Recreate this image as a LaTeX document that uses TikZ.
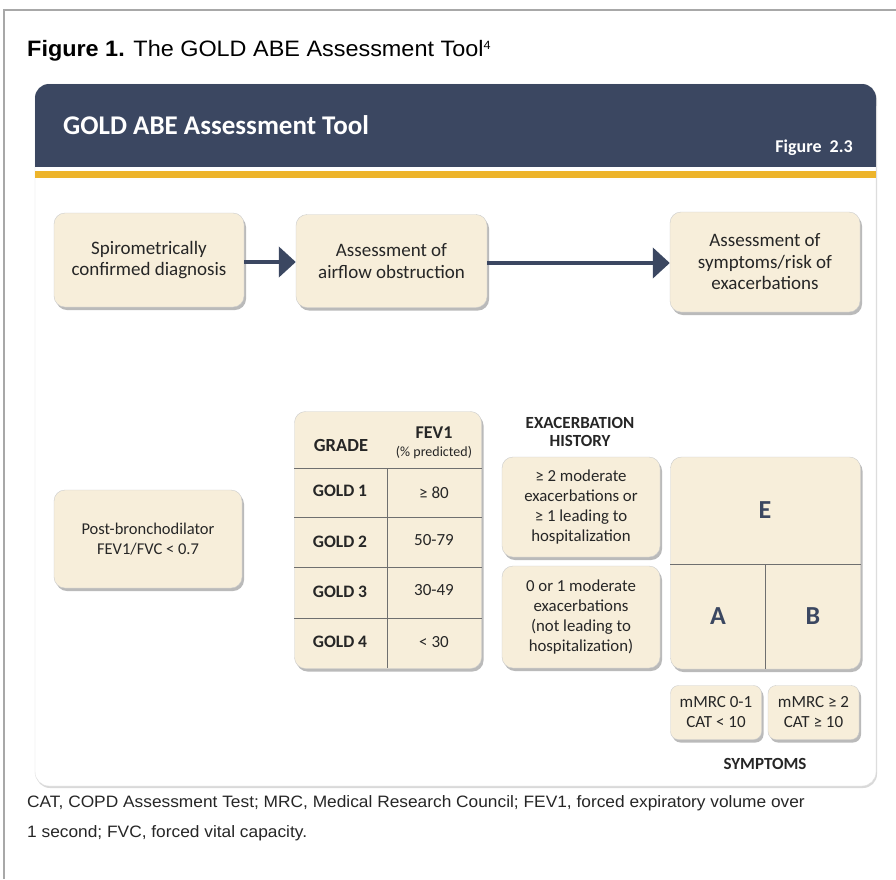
\documentclass[tikz,border=0pt]{standalone}
\usepackage{fontspec}
\setmainfont{Liberation Sans}
\newfontfamily\wide[FakeStretch=1.05]{Liberation Sans}
\newfontfamily\carl{Carlito}
\usetikzlibrary{arrows.meta,shadows,positioning}
\definecolor{navy}{HTML}{3B4761}
\definecolor{gold}{HTML}{EDB42B}
\definecolor{cream}{HTML}{F7EEDA}
\definecolor{frame}{HTML}{A8A8A8}
\definecolor{gridl}{HTML}{6F6F6F}
\tikzset{
  cbox/.style={draw=gray!40, fill=cream, rounded corners=11pt, align=center,
    font=\carl\fontsize{19}{21.5}\selectfont, text=black!85, inner sep=0pt,
    drop shadow={shadow xshift=2pt, shadow yshift=-3pt, opacity=.45, fill=black!60}},
  lbl/.style={inner sep=0pt, align=center},
  cell/.style={inner sep=0pt, font=\carl\bfseries\fontsize{17.5}{20}\selectfont, text=black!85},
  val/.style={inner sep=0pt, font=\carl\fontsize{17}{20}\selectfont, text=black!85},
  abe/.style={inner sep=0pt, text=navy, font=\carl\bfseries\fontsize{26}{30}\selectfont},
  flow/.style={navy, line width=4.5pt, -{Triangle[length=17pt,width=30pt]}},
  gline/.style={gridl, line width=1pt},
  foot/.style={inner sep=0pt, anchor=west, font=\wide\fontsize{16.5}{20}\selectfont, text=black!85},
}
\begin{document}
\begin{tikzpicture}[x=1pt,y=-1pt]
\useasboundingbox (0,0) rectangle (896,879);
\fill[white] (0,0) rectangle (896,879);
% outer frame
\draw[frame, line width=1.5pt] (4,879) -- (4,10) -- (896,10);
% title
\node[lbl, anchor=west, font=\wide\fontsize{22.3}{26}\selectfont] (title) at (27,51)
  {\textbf{Figure 1.} The GOLD ABE Assessment Tool\textsuperscript{\fontsize{12}{12}\selectfont 4}};
% card
\path[fill=white, draw=gray!25, rounded corners=14pt,
  drop shadow={shadow xshift=1pt, shadow yshift=-2pt, opacity=.15, fill=black}]
  (35,84) rectangle (876,786);
% header
\fill[navy, rounded corners=14pt] (35,84) rectangle (876,120);
\fill[navy] (35,105) rectangle (876,167);
\node[lbl, anchor=west, text=white, font=\carl\bfseries\fontsize{27}{30}\selectfont] (head) at (63,125) {GOLD ABE Assessment Tool};
\node[lbl, anchor=east, text=white, font=\carl\bfseries\fontsize{18}{20}\selectfont] (fig) at (853,148) {Figure\ \ 2.3};
\fill[gold] (35,171) rectangle (876,178);
% top flow
\node[cbox, minimum width=190pt, minimum height=94pt] (b1) at (149,260) {Spirometrically\\confirmed diagnosis};
\node[cbox, minimum width=191pt, minimum height=93pt] (b2) at (391.5,261) {Assessment of\\airflow obstruction};
\node[cbox, minimum width=190pt, minimum height=100pt] (b3) at (765,262) {Assessment of\\symptoms/risk of\\exacerbations};
\coordinate (a1s) at (b1.east |- 0,262);
\coordinate (a1e) at (b2.west |- 0,262);
\coordinate (a2s) at (b2.east |- 0,263);
\coordinate (a2e) at (b3.west |- 0,263);
\draw[flow] (a1s) -- (a1e);
\draw[flow] (a2s) -- (a2e);
% post-bronchodilator
\node[cbox, minimum width=188pt, minimum height=98pt, font=\carl\fontsize{16.5}{20}\selectfont] (post) at (148,539) {Post-bronchodilator\\FEV1/FVC < 0.7};
% table
\node[cbox, minimum width=187pt, minimum height=257pt] (tab) at (388,540) {};
\draw[gline] (tab.west |- 0,468) -- (tab.east |- 0,468);
\draw[gline] (tab.west |- 0,517) -- (tab.east |- 0,517);
\draw[gline] (tab.west |- 0,567) -- (tab.east |- 0,567);
\draw[gline] (tab.west |- 0,618) -- (tab.east |- 0,618);
\draw[gline] (387,468) -- (387,668);
\node[cell, font=\carl\bfseries\fontsize{18.5}{20}\selectfont] (grade) at (341,445) {GRADE};
\node[cell, font=\carl\bfseries\fontsize{18}{20}\selectfont] (fev) at (434,433) {FEV1};
\node[val, font=\carl\fontsize{14}{16}\selectfont] (pred) at (434,452) {(\% predicted)};
\node[cell] (g1) at (340,491) {GOLD 1};
\node[cell] (g2) at (340,542) {GOLD 2};
\node[cell] (g3) at (340,592) {GOLD 3};
\node[cell] (g4) at (340,642) {GOLD 4};
\node[val] (v1) at (434,493) {≥ 80};
\node[val] (v2) at (434,540) {50-79};
\node[val] (v3) at (434,590) {30-49};
\node[val] (v4) at (434,642) {< 30};
% exacerbation history
\node[cell, align=center, font=\carl\bfseries\fontsize{17}{18}\selectfont] (exh) at (580,432) {EXACERBATION\\HISTORY};
\node[cbox, minimum width=158pt, minimum height=100pt, font=\carl\fontsize{16.8}{20.3}\selectfont] (e1) at (581,507) {≥ 2 moderate\\exacerbations or\\≥ 1 leading to\\hospitalization};
\node[cbox, minimum width=158pt, minimum height=102pt, font=\carl\fontsize{16.8}{20.3}\selectfont] (e2) at (581,617) {0 or 1 moderate\\exacerbations\\(not leading to\\hospitalization)};
% ABE grid
\node[cbox, minimum width=190pt, minimum height=212pt] (grid) at (765.5,563) {};
\draw[gline] (grid.west |- 0,564) -- (grid.east |- 0,564);
\draw[gline] (765,564) -- (765,669);
\node[abe] (E) at (765,510) {E};
\node[abe] (A) at (718,616) {A};
\node[abe] (B) at (813,616) {B};
% symptoms
\node[cbox, rounded corners=8pt, minimum width=91pt, minimum height=54pt, font=\carl\fontsize{17}{20}\selectfont] (s1) at (716,712.5) {mMRC 0-1\\CAT < 10};
\node[cbox, rounded corners=8pt, minimum width=91pt, minimum height=54pt, font=\carl\fontsize{17}{20}\selectfont] (s2) at (813.5,712.5) {mMRC ≥ 2\\CAT ≥ 10};
\node[cell, font=\carl\bfseries\fontsize{17}{18}\selectfont] (sym) at (765,764) {SYMPTOMS};
% footnote
\node[foot] (fn1) at (27,803) {CAT, COPD Assessment Test; MRC, Medical Research Council; FEV1, forced expiratory volume over};
\node[foot] (fn2) at (27,833) {1 second; FVC, forced vital capacity.};
\end{tikzpicture}
\end{document}
